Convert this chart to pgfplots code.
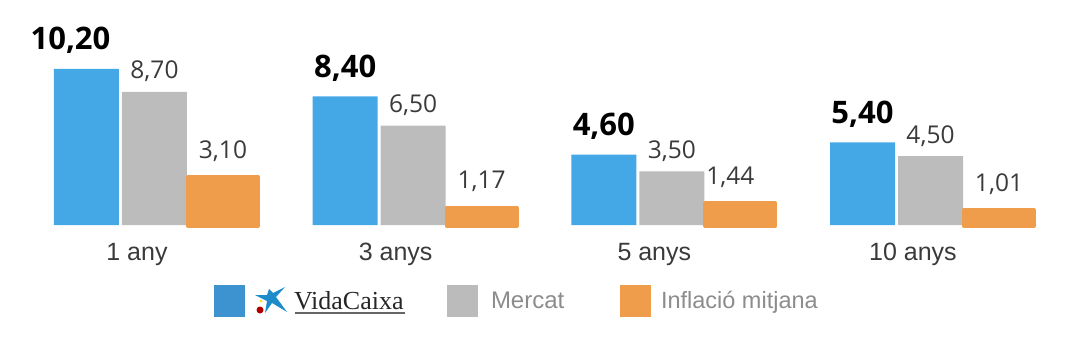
\documentclass[border=0pt]{standalone}
\usepackage{fontspec}
\usepackage{pgfplots}
\pgfplotsset{compat=1.18}
\setmainfont{Liberation Sans}
\newfontfamily\valfont{Open Sans}
\newfontfamily\logofont{Liberation Serif}
\definecolor{cblue}{HTML}{45A8E6}
\definecolor{cgrey}{HTML}{BCBCBC}
\definecolor{corange}{HTML}{EF9D4A}
\definecolor{lblue}{HTML}{3D93D0}
\definecolor{lgrey}{HTML}{BBBBBB}
\definecolor{ltext}{HTML}{8C8C8C}
\definecolor{vtext}{HTML}{3A3A3A}
\definecolor{logoblue}{HTML}{1E8CCB}
\pgfplotsset{
  base/.style={
    at={(0pt,0pt)}, anchor=south west,
    scale only axis, width=1076pt, height=354pt,
    xmin=-0.5296, xmax=3.6302,
    clip=false,
    axis line style={draw=none}, tick style={draw=none},
    ytick=\empty, xtick={0,1,2,3},
    /pgf/number format/assume math mode=true,
    /pgf/number format/use comma,
    /pgf/number format/fixed,
    /pgf/number format/fixed zerofill,
    /pgf/number format/precision=2,
  },
  vals/.style={
    nodes near coords,
    every node near coord/.append style={font=\fontsize{24.5}{28}\selectfont\valfont, text=vtext, anchor=base, yshift=13pt, inner sep=0pt},
  },
}
\begin{document}
\begin{tikzpicture}[x=1pt,y=1pt]
\useasboundingbox (0,0) rectangle (1076,354);
\begin{axis}[base,
  ymin=-8.431, ymax=14.706,
  xticklabels={1 any,3 anys,5 anys,10 anys},
  xticklabel style={font=\fontsize{25}{30}\selectfont, text=vtext, anchor=center, yshift=100pt},
  legend columns=3,
  legend image code/.code={\fill[#1,draw=none] (0pt,-16pt) rectangle (31pt,16pt);},
  legend style={at={(0.19888,0.1497)}, anchor=west, draw=none, fill=none, inner sep=0pt, outer sep=0pt,
    nodes={inner sep=0pt, outer sep=0pt, anchor=west},
    /tikz/column sep=0pt, /tikz/row sep=0pt},
]
\addlegendimage{fill=lblue}
\addlegendentry{\makebox[202pt][l]{\hspace{49pt}\fontsize{26}{30}\selectfont\logofont\color{black!85}VidaCaixa}}
\addlegendimage{fill=lgrey}
\addlegendentry{\makebox[142pt][l]{\hspace{13pt}\fontsize{24}{28}\selectfont\color{ltext}Mercat}}
\addlegendimage{fill=corange}
\addlegendentry{\makebox[170pt][l]{\hspace{10pt}\fontsize{23.5}{28}\selectfont\color{ltext}Inflació mitjana}}
\addplot[ybar, bar width=65pt, bar shift=-50.5pt, fill=cblue, draw=none, vals, forget plot,
  visualization depends on={x \as \xv},
  every node near coord/.append style={font=\fontsize{31}{34}\selectfont\valfont\bfseries, text=black, yshift=6pt, xshift={ifthenelse(\xv==0,-66.5,-50.5)}}]
  coordinates {(0,10.20) (1,8.40) (2,4.60) (3,5.40)};
\addplot[ybar, bar width=65pt, bar shift=17.5pt, fill=cgrey, draw=none, vals, forget plot,
  every node near coord/.append style={xshift=17.5pt}]
  coordinates {(0,8.70) (1,6.50) (2,3.50) (3,4.50)};
\end{axis}
\begin{axis}[base,
  ymin=-8.101, ymax=14.304,
  xticklabels={},
]
\addplot[ybar, bar width=70pt, bar shift=86pt, fill=corange, draw=corange, line width=4pt, line join=round, vals,
  visualization depends on={x \as \xv},
  every node near coord/.append style={yshift=6pt, xshift={ifthenelse(\xv==2,76,86)}}]
  coordinates {(0,3.10) (1,1.17) (2,1.44) (3,1.01)};
\end{axis}
% logo star and rule of the legend entry
\begin{scope}[yscale=-1, yshift=-354pt]
\fill[logoblue] (285,287) -- (276,297) -- (287,312) -- (272,303) -- (265,313) -- (267,301) -- (255,295) -- (267,295) -- (269,289) -- (273,293) -- cycle;
\fill[red!70!black] (260,310) circle (3.5);
\fill[yellow!80!orange] (261,301) circle (1.5);
\draw[black!60, line width=1.6pt] (295,313) -- (405,313);
\end{scope}
\end{tikzpicture}
\end{document}
